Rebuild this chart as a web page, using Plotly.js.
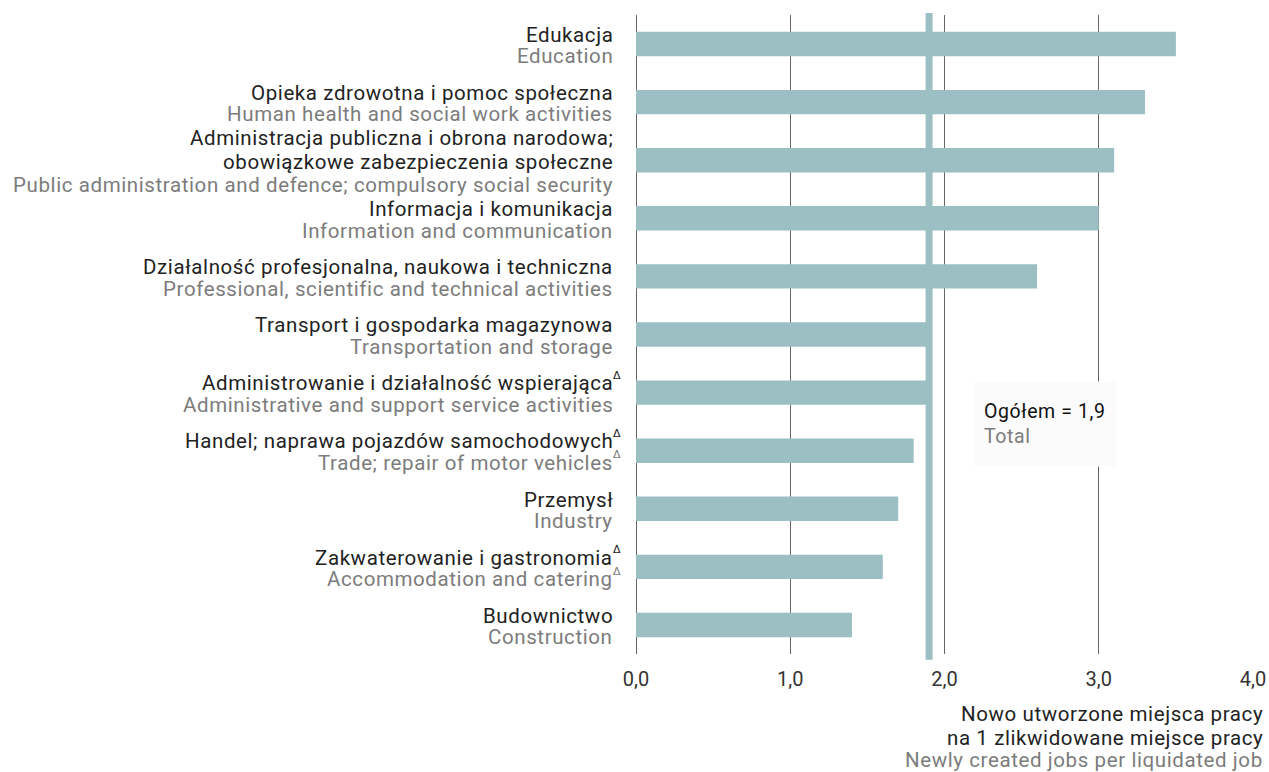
<!DOCTYPE html>
<html>
<head>
<meta charset="utf-8">
<script src="https://cdn.plot.ly/plotly-3.0.1.min.js"></script>
<style>html,body{margin:0;padding:0;background:#fff;}#chart{width:1269px;height:772px;}</style>
</head>
<body>
<div id="chart"></div>
<script>
// Data (top to bottom)
var categoriesPL = [
  "Edukacja",
  "Opieka zdrowotna i pomoc społeczna",
  "Administracja publiczna i obrona narodowa;<br>obowiązkowe zabezpieczenia społeczne",
  "Informacja i komunikacja",
  "Działalność profesjonalna, naukowa i techniczna",
  "Transport i gospodarka magazynowa",
  "Administrowanie i działalność wspierająca",
  "Handel; naprawa pojazdów samochodowych",
  "Przemysł",
  "Zakwaterowanie i gastronomia",
  "Budownictwo"
];
var categoriesEN = [
  "Education",
  "Human health and social work activities",
  "Public administration and defence; compulsory social security",
  "Information and communication",
  "Professional, scientific and technical activities",
  "Transportation and storage",
  "Administrative and support service activities",
  "Trade; repair of motor vehicles",
  "Industry",
  "Accommodation and catering",
  "Construction"
];
var deltaPL = [false,false,false,false,false,false,true,true,false,true,false];
var deltaEN = [false,false,false,false,false,false,false,true,false,true,false];
var values = [3.5, 3.3, 3.1, 3.0, 2.6, 1.9, 1.9, 1.8, 1.7, 1.6, 1.4];
var totalValue = 1.9;
var totalLabelPL = "Ogółem = 1,9";
var totalLabelEN = "Total";
var xTickVals = [0, 1, 2, 3, 4];
var xTickText = ["0,0", "1,0", "2,0", "3,0", "4,0"];
var axisTitlePL = ["Nowo utworzone miejsca pracy", "na 1 zlikwidowane miejsce pracy"];
var axisTitleEN = "Newly created jobs per liquidated job";

var FONT = "Roboto, sans-serif";
var FS = 20.5;
var DARK = "#222222";
var GRAY = "#7c7c7c";
var BAR = "#9bbfc2";
var LS = "letter-spacing:0.6px";

function spaced(t) { return "<span style='" + LS + "'>" + t + "</span>"; }

var ids = categoriesEN.map(function(c, i){ return "c" + i; });

var trace = {
  type: "bar",
  orientation: "h",
  x: values,
  y: ids,
  marker: {color: BAR, line: {width: 0}},
  width: 0.42,
  hoverinfo: "x"
};

var annotations = [];
ids.forEach(function(id, i){
  var lines = [];
  categoriesPL[i].split("<br>").forEach(function(t, k, arr){
    lines.push({text: t, color: DARK, delta: deltaPL[i] && k === arr.length - 1});
  });
  lines.push({text: categoriesEN[i], color: GRAY, delta: deltaEN[i]});
  var n = lines.length;
  var sp = n > 2 ? 23.5 : 21.5;
  lines.forEach(function(L, k){
    var ys = ((n - 1) / 2 - k) * sp - 1.5;
    annotations.push({
      xref: "paper", yref: "y", x: 0, y: id,
      xanchor: "right", yanchor: "middle",
      xshift: -21, yshift: ys,
      text: spaced(L.text), showarrow: false,
      font: {family: FONT, size: FS, color: L.color}
    });
    if (L.delta) {
      annotations.push({
        xref: "paper", yref: "y", x: 0, y: id,
        xanchor: "left", yanchor: "middle",
        xshift: -25, yshift: ys + 8,
        text: "Δ", showarrow: false,
        font: {family: "DejaVu Sans", size: 11, color: L.color}
      });
    }
  });
});

// Total box
annotations.push({
  xref: "x", yref: "paper", x: 2.652, y: 0.3607,
  xanchor: "center", yanchor: "middle",
  text: spaced(totalLabelPL) + "<br><span style='color:" + GRAY + ";" + LS + "'>" + totalLabelEN + "</span>",
  align: "left", valign: "middle",
  width: 122, height: 64, borderpad: 10,
  bgcolor: "#fbfbfb", showarrow: false,
  font: {family: FONT, size: 19.5, color: "#111"}
});

// Axis title
axisTitlePL.forEach(function(t, k){
  annotations.push({
    xref: "paper", yref: "paper", x: 1, y: 0, xanchor: "right", yanchor: "middle",
    xshift: 12, yshift: -60 - 24 * k,
    text: spaced(t), showarrow: false,
    font: {family: FONT, size: FS, color: DARK}
  });
});
annotations.push({
  xref: "paper", yref: "paper", x: 1, y: 0, xanchor: "right", yanchor: "middle",
  xshift: 12, yshift: -106,
  text: spaced(axisTitleEN), showarrow: false,
  font: {family: FONT, size: FS, color: GRAY}
});

var layout = {
  width: 1269, height: 772,
  margin: {l: 636, r: 16, t: 15, b: 118},
  paper_bgcolor: "#ffffff", plot_bgcolor: "#ffffff",
  showlegend: false,
  xaxis: {
    range: [0, 4], tickvals: xTickVals, ticktext: xTickText,
    showgrid: true, gridcolor: "#666666", gridwidth: 1,
    zeroline: true, zerolinecolor: "#666666", zerolinewidth: 1,
    showline: false, ticks: "", ticklabelstandoff: 11,
    tickfont: {family: FONT, size: 20, color: "#333"},
    fixedrange: true
  },
  yaxis: {
    type: "category", categoryorder: "array", categoryarray: ids,
    autorange: "reversed", showticklabels: false, showgrid: false,
    zeroline: false, showline: false, ticks: "", fixedrange: true
  },
  shapes: [{
    type: "line", xref: "x", yref: "paper",
    x0: totalValue, x1: totalValue, y0: -0.009, y1: 1.003,
    line: {color: BAR, width: 7}, layer: "above"
  }],
  annotations: annotations,
  font: {family: FONT}
};

Plotly.newPlot("chart", [trace], layout, {displayModeBar: false, staticPlot: true});
</script>
</body>
</html>
